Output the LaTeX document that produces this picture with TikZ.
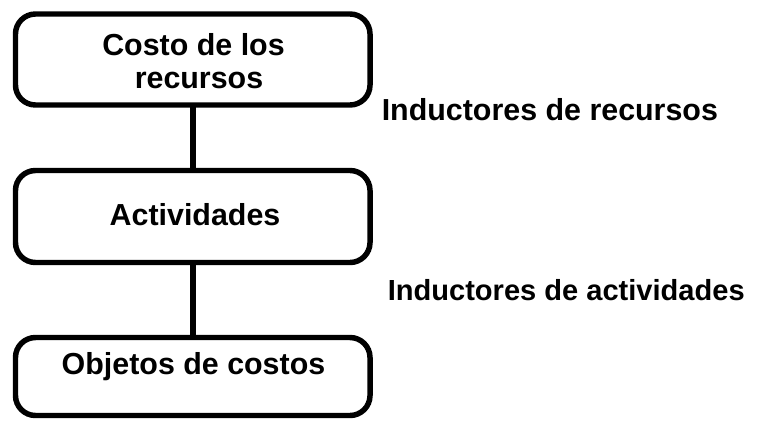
\documentclass[tikz,border=0pt]{standalone}
\usepackage{fontspec}
\setmainfont{Liberation Sans}
\begin{document}
\begin{tikzpicture}[x=0.75pt,y=-0.75pt,
  boxst/.style={draw=black, line width=4.1pt, rounded corners=15pt, inner sep=0pt, outer sep=0pt, minimum width=265.9pt},
  txt/.style={anchor=base, inner sep=0pt, font=\fontsize{22.8}{27}\selectfont\bfseries},
  lbl/.style={anchor=base west, inner sep=0pt, font=\fontsize{22.8}{27}\selectfont\bfseries},
  conn/.style={line width=4.3pt}]
\useasboundingbox (0,0) rectangle (763,421);
\node[boxst, minimum height=68.25pt] (top) at (192.75,59.5) {};
\node[boxst, minimum height=69pt] (mid) at (192.75,216.5) {};
\node[boxst, minimum height=58.5pt] (bot) at (192.75,376.5) {};
\draw[conn] (top.south) -- (mid.north);
\draw[conn] (mid.south) -- (bot.north);
\node[txt] (t1) at (193.5,55) {Costo de los};
\node[txt] (t2) at (199,88) {recursos};
\node[txt] (t3) at (195,225) {Actividades};
\node[txt] (t4) at (193.5,374) {Objetos de costos};
\node[lbl] (l1) at (381.5,120) {Inductores de recursos};
\node[lbl, font=\fontsize{21.8}{26}\selectfont\bfseries] (l2) at (387.5,300) {Inductores de actividades};
\end{tikzpicture}
\end{document}
